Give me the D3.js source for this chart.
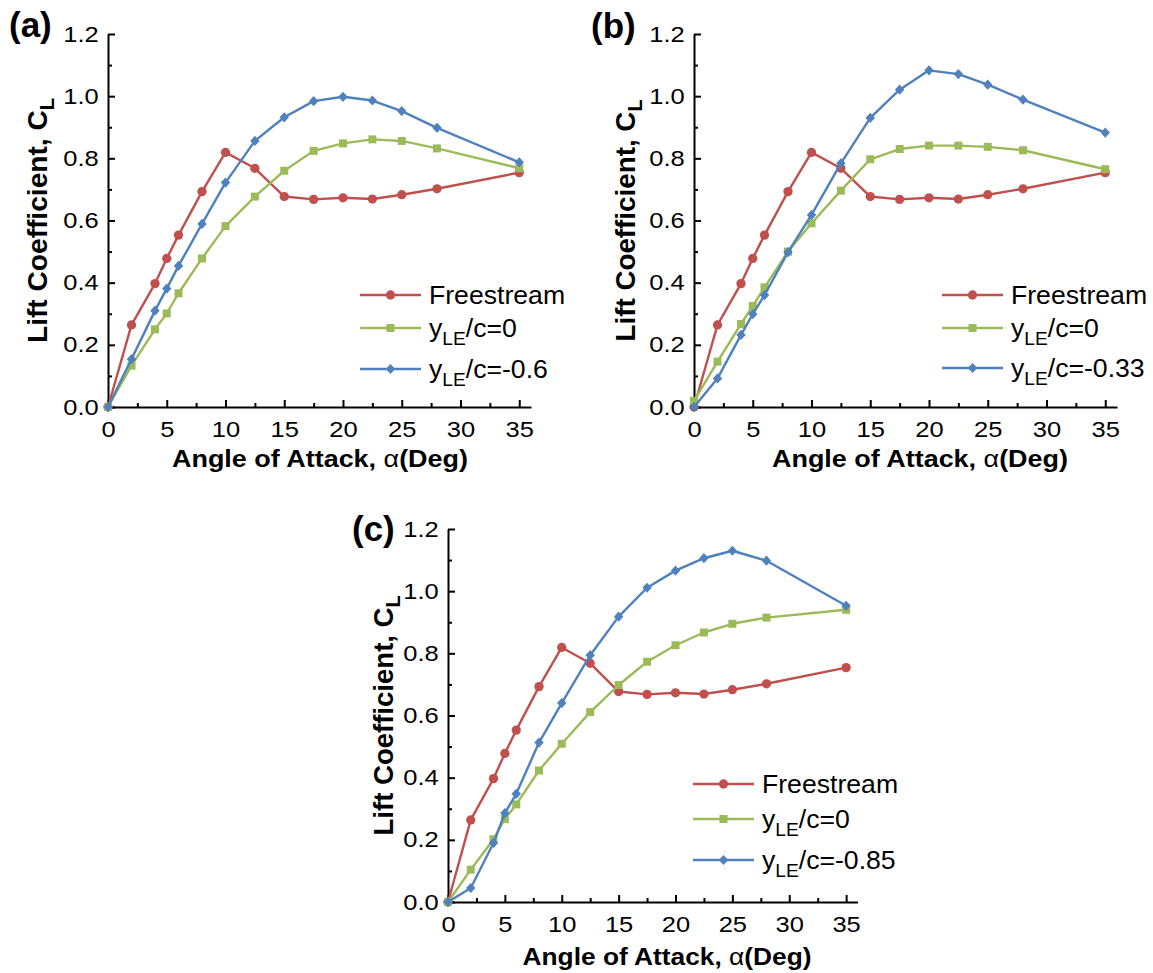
<!DOCTYPE html>
<html><head><meta charset="utf-8">
<script src="https://cdn.jsdelivr.net/npm/d3@7"></script>
<style>
body{margin:0;background:#fff}
svg{display:block}
text{font-family:"Liberation Sans",Arial,Helvetica,sans-serif;fill:#000}
</style>
</head><body>
<svg id="chart" width="1153" height="973"></svg>
<script>
// ---------------- data ----------------
const alpha = [0, 2, 4, 5, 6, 8, 10, 12.5, 15, 17.5, 20, 22.5, 25, 28, 35];
const freestream = [0, 0.264, 0.397, 0.478, 0.553, 0.693, 0.819, 0.768, 0.677, 0.668, 0.673, 0.669, 0.683, 0.702, 0.754];
const a_yLE0   = [0, 0.133, 0.250, 0.301, 0.366, 0.478, 0.582, 0.677, 0.760, 0.824, 0.848, 0.861, 0.856, 0.832, 0.768];
const a_yLEm06 = [0, 0.154, 0.310, 0.381, 0.454, 0.589, 0.722, 0.856, 0.932, 0.984, 0.998, 0.986, 0.952, 0.898, 0.787];
const b_yLE0   = [0.02, 0.146, 0.267, 0.325, 0.385, 0.500, 0.591, 0.696, 0.797, 0.830, 0.841, 0.841, 0.837, 0.826, 0.765];
const b_yLEm033= [0, 0.092, 0.232, 0.299, 0.360, 0.498, 0.618, 0.784, 0.930, 1.021, 1.083, 1.071, 1.037, 0.989, 0.883];
const c_yLE0   = [0, 0.104, 0.202, 0.267, 0.314, 0.423, 0.509, 0.611, 0.698, 0.773, 0.826, 0.867, 0.895, 0.915, 0.940];
const c_yLEm085= [0, 0.045, 0.190, 0.286, 0.348, 0.513, 0.640, 0.794, 0.918, 1.011, 1.066, 1.106, 1.130, 1.098, 0.953];

const panelLabels = ["(a)", "(b)", "(c)"];
const seriesNames = ["Freestream", "yLE/c=0"];
const negLabels = ["-0.6", "-0.33", "-0.85"];
const xTicks = [0, 5, 10, 15, 20, 25, 30, 35];
const xMinor = [2.5, 7.5, 12.5, 17.5, 22.5, 27.5, 32.5];
const yTicks = [0, 0.2, 0.4, 0.6, 0.8, 1.0, 1.2];
const yMinor = [0.1, 0.3, 0.5, 0.7, 0.9, 1.1];
const xTitle = ["Angle of Attack, ", "\u03b1", "(Deg)"];
const yTitle = ["Lift Coefficient, C", "L"];

// ---------------- style / layout ----------------
const colors = ["#C0504D", "#9BBB59", "#4F81BD"];
const SX = 1.16;

const panels = [
  {label: panelLabels[0], data: [freestream, a_yLE0, a_yLEm06], neg: negLabels[0],
   left: 108, right: 531, top: 34, bottom: 407, labX: 9, labY: 37,
   legX: 360, legY: [295, 328, 369], xtX: 320, xtY: 467, xtLen: 296, ytX: 47, ytLen: 245},
  {label: panelLabels[1], data: [freestream, b_yLE0, b_yLEm033], neg: negLabels[1],
   left: 694, right: 1117, top: 34, bottom: 407, labX: 591, labY: 38,
   legX: 942, legY: [295, 328, 368], xtX: 920, xtY: 467, xtLen: 296, ytX: 635, ytLen: 242},
  {label: panelLabels[2], data: [freestream, c_yLE0, c_yLEm085], neg: negLabels[2],
   left: 448, right: 857.5, top: 529, bottom: 902, labX: 352, labY: 541,
   legX: 693, legY: [784, 819, 860], xtX: 667, xtY: 965, xtLen: 289, ytX: 393, ytLen: 240}
];

const diamond = {draw(ctx, size) { const w = 4.7, h = 5.1;
  ctx.moveTo(0, -h); ctx.lineTo(w, 0); ctx.lineTo(0, h); ctx.lineTo(-w, 0); ctx.closePath(); }};
const symbols = [d3.symbol(d3.symbolCircle, 68), d3.symbol(d3.symbolSquare, 64), d3.symbol(diamond, 1)];

const svg = d3.select("#chart");

function drawPanel(p) {
  const g = svg.append("g");
  const x = d3.scaleLinear().domain([0, 36]).range([p.left, p.right]);
  const y = d3.scaleLinear().domain([0, 1.2]).range([p.bottom, p.top]);

  // minor ticks
  g.append("g").attr("transform", `translate(0,${p.bottom})`)
    .call(d3.axisBottom(x).tickValues(xMinor).tickSize(-4).tickFormat(""))
    .call(s => s.select(".domain").remove());
  g.append("g").attr("transform", `translate(${p.left},0)`)
    .call(d3.axisLeft(y).tickValues(yMinor).tickSize(-4).tickFormat(""))
    .call(s => s.select(".domain").remove());

  // major axes
  const gx = g.append("g").attr("transform", `translate(0,${p.bottom})`)
    .call(d3.axisBottom(x).tickValues(xTicks).tickSize(-7).tickSizeOuter(0).tickPadding(14).tickFormat(d3.format("d")));
  const gy = g.append("g").attr("transform", `translate(${p.left},0)`)
    .call(d3.axisLeft(y).tickValues(yTicks).tickSize(-7).tickSizeOuter(0).tickPadding(8).tickFormat(d3.format(".1f")));
  [gx, gy].forEach(a => {
    a.selectAll("path,line").attr("stroke", "#000").attr("stroke-width", 2);
    a.selectAll("text").attr("font-size", 22).attr("fill", "#000")
      .attr("font-family", '"Liberation Sans",Arial,sans-serif')
      .attr("transform", `scale(${SX},1)`);
  });
  g.selectAll(".tick line").attr("stroke", "#000").attr("stroke-width", 2);

  // series
  const line = d3.line().x(d => x(d[0])).y(d => y(d[1]));
  p.data.forEach((vals, i) => {
    const pts = alpha.map((a, k) => [a, vals[k]]);
    g.append("path").datum(pts).attr("d", line).attr("fill", "none")
      .attr("stroke", colors[i]).attr("stroke-width", 2.4).attr("stroke-linejoin", "round");
    g.selectAll(null).data(pts).enter().append("path")
      .attr("d", symbols[i]).attr("fill", colors[i])
      .attr("transform", d => `translate(${x(d[0])},${y(d[1])})`);
  });

  // legend
  const legendTexts = [[seriesNames[0]], ["y", "LE", "/c=0"], ["y", "LE", "/c=" + p.neg]];
  legendTexts.forEach((parts, i) => {
    const ly = p.legY[i];
    g.append("line").attr("x1", p.legX).attr("x2", p.legX + 61).attr("y1", ly).attr("y2", ly)
      .attr("stroke", colors[i]).attr("stroke-width", 2.4);
    g.append("path").attr("d", symbols[i]).attr("fill", colors[i])
      .attr("transform", `translate(${p.legX + 30.5},${ly})`);
    const t = g.append("text").attr("font-size", 25)
      .attr("transform", `translate(${p.legX + 69},${ly + 8.5}) scale(1.065,1)`);
    if (parts.length === 1) t.text(parts[0]);
    else {
      t.append("tspan").text(parts[0]);
      t.append("tspan").attr("font-size", 18).attr("dy", 8).text(parts[1]);
      t.append("tspan").attr("dy", -8).text(parts[2]);
    }
  });

  // axis titles
  const xt = g.append("text").attr("x", p.xtX).attr("y", p.xtY).attr("text-anchor", "middle")
    .attr("font-size", 23).attr("font-weight", "bold")
    .attr("textLength", p.xtLen).attr("lengthAdjust", "spacingAndGlyphs");
  xt.append("tspan").text(xTitle[0]);
  xt.append("tspan").attr("font-weight", "normal").text(xTitle[1]);
  xt.append("tspan").text(xTitle[2]);

  const yt = g.append("text").attr("text-anchor", "middle")
    .attr("transform", `translate(${p.ytX},${(p.top + p.bottom) / 2}) rotate(-90)`)
    .attr("font-size", 28).attr("font-weight", "bold")
    .attr("textLength", p.ytLen).attr("lengthAdjust", "spacingAndGlyphs");
  yt.append("tspan").text(yTitle[0]);
  yt.append("tspan").attr("font-size", 20).attr("dy", 7).text(yTitle[1]);

  // panel label
  g.append("text").attr("font-size", 35).attr("font-weight", "bold")
    .attr("transform", `translate(${p.labX},${p.labY})`).text(p.label);
}

panels.forEach(drawPanel);
</script>
</body></html>
